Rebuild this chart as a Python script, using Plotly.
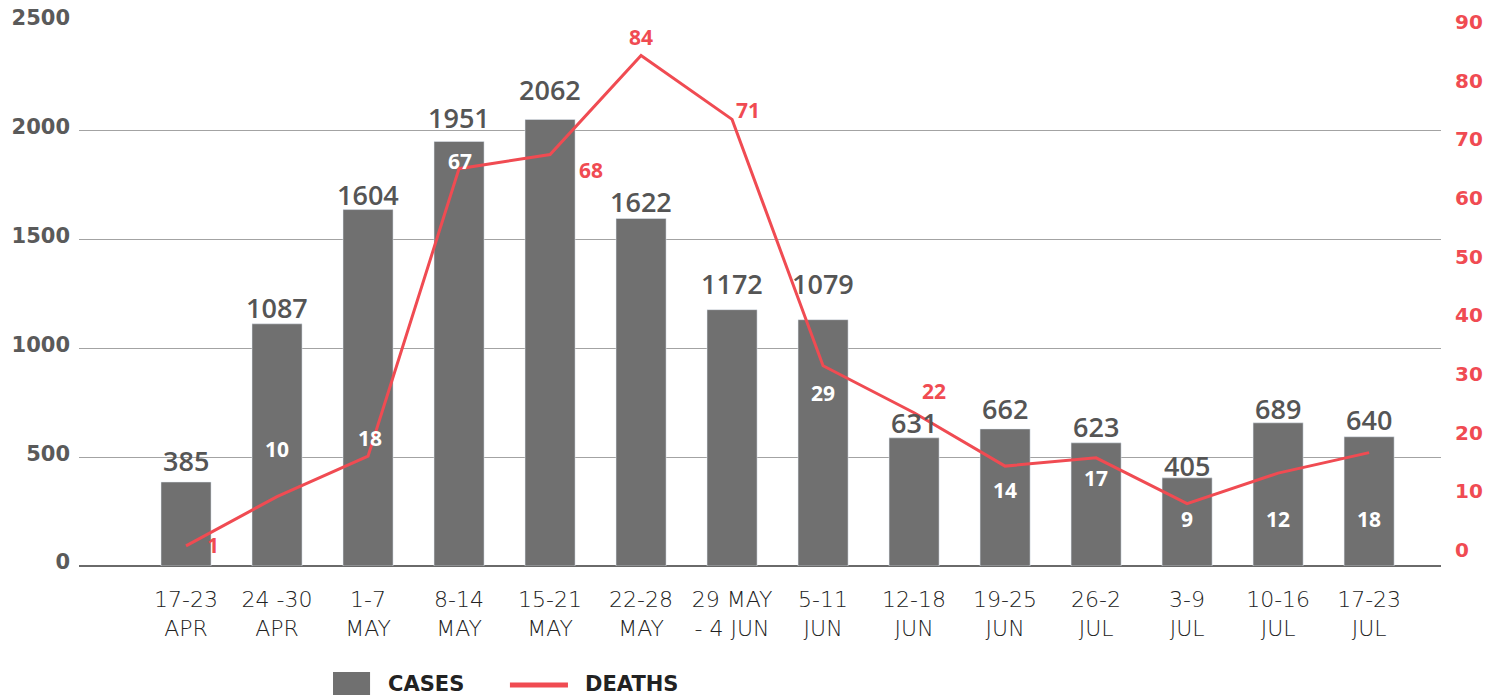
import plotly.graph_objects as go

# ---------------- data ----------------
weeks = ["17-23<br>APR", "24 -30<br>APR", "1-7<br>MAY", "8-14<br>MAY", "15-21<br>MAY",
         "22-28<br>MAY", "29 MAY<br>- 4 JUN", "5-11<br>JUN", "12-18<br>JUN", "19-25<br>JUN",
         "26-2<br>JUL", "3-9<br>JUL", "10-16<br>JUL", "17-23<br>JUL"]
# bar heights as drawn in the picture
cases_drawn = [386, 1113, 1638, 1951, 2052, 1597, 1178, 1132, 589, 630, 566, 405, 658, 594]
# printed case labels
cases_labels = [385, 1087, 1604, 1951, 2062, 1622, 1172, 1079, 631, 662, 623, 405, 689, 640]
# line points as drawn in the picture
deaths_drawn = [0.7, 9.1, 16.0, 65.0, 67.4, 84.3, 73.4, 31.4, 23.4, 14.3, 15.7, 7.9, 13.1, 16.6]
# printed death labels
deaths_labels = [1, 10, 18, 67, 68, 84, 71, 29, 22, 14, 17, 9, 12, 18]

left_ticks = [0, 500, 1000, 1500, 2000, 2500]
right_ticks = [0, 10, 20, 30, 40, 50, 60, 70, 80, 90]

# ---------------- style ----------------
BAR = "#707070"
RED = "#f04b52"
GREY_TXT = "#555555"
DARK = "#222222"
FONT = "Open Sans"
WIDE = "DejaVu Sans"

# label pixel offsets (style)
case_lbl_yshift = [22, 16, 15, 24, 30, 17, 26, 36, 15, 20, 16, 12, 14, 17]
death_lbl_shift = [(27, 1), (0, 48), (2, 18), (1, 8), (41, -15), (0, 18), (16, 9),
                   (0, -27), (20, 22), (0, -24), (0, -20), (0, -15), (0, -46), (0, -66)]
death_lbl_white = [False, True, True, True, False, False, False,
                   True, False, True, True, True, True, True]

x = list(range(len(weeks)))

fig = go.Figure()
fig.add_trace(go.Bar(x=x, y=cases_drawn, marker_color=BAR, width=0.55,
                     name="CASES", yaxis="y"))
fig.add_trace(go.Scatter(x=x, y=deaths_drawn, mode="lines", name="DEATHS",
                         line=dict(color=RED, width=3), yaxis="y2"))

annotations = []
for i, (h, lab, ys) in enumerate(zip(cases_drawn, cases_labels, case_lbl_yshift)):
    annotations.append(dict(x=i, y=h, xref="x", yref="y", text=str(lab), showarrow=False,
                            yanchor="middle", yshift=ys,
                            font=dict(family=FONT, size=27, color=GREY_TXT, weight=600)))
for i, (d, lab, (xs, ys), white) in enumerate(zip(deaths_drawn, deaths_labels,
                                                  death_lbl_shift, death_lbl_white)):
    annotations.append(dict(x=i, y=d, xref="x", yref="y2", text=str(lab), showarrow=False,
                            yanchor="middle", xshift=xs, yshift=ys,
                            font=dict(family=FONT, size=21, weight=700,
                                      color="#ffffff" if white else RED)))

# custom legend
annotations.append(dict(x=0.2254, y=-0.2169, xref="paper", yref="paper", text="CASES",
                        showarrow=False, xanchor="left", yanchor="middle",
                        font=dict(family=WIDE, size=21, color=DARK, weight=700)))
annotations.append(dict(x=0.3700, y=-0.2169, xref="paper", yref="paper", text="DEATHS",
                        showarrow=False, xanchor="left", yanchor="middle",
                        font=dict(family=WIDE, size=21, color=DARK, weight=700)))
shapes = [
    dict(type="rect", xref="paper", yref="paper", x0=0.1865, x1=0.2137, y0=-0.2371, y1=-0.1949,
         fillcolor=BAR, line=dict(width=0)),
    dict(type="line", xref="paper", yref="paper", x0=0.3164, x1=0.3590, y0=-0.2188, y1=-0.2188,
         line=dict(color=RED, width=5)),
]

fig.update_layout(
    width=1499, height=695,
    margin=dict(l=79, r=58, t=22, b=129, autoexpand=False),
    plot_bgcolor="white", paper_bgcolor="white",
    showlegend=False,
    xaxis=dict(tickmode="array", tickvals=x, ticktext=weeks, range=[-1.176, 13.79],
               showgrid=False, zeroline=False, showline=False, ticks="", automargin=False,
               ticklabelstandoff=18,
               tickfont=dict(family=WIDE, size=22, color=DARK, weight=300)),
    yaxis=dict(range=[0, 2500], tickvals=left_ticks, showgrid=True, gridcolor="#a3a3a3",
               gridwidth=1, zeroline=True, zerolinecolor="#6a6a6a", zerolinewidth=2,
               showline=False, ticks="", ticklabelstandoff=8, automargin=False,
               ticklabelshift=-4,
               tickfont=dict(family=WIDE, size=21, color="#5a5a5a", weight=600)),
    yaxis2=dict(range=[-2.73, 90], tickvals=right_ticks, overlaying="y", side="right",
                showgrid=False, zeroline=False, showline=False, ticks="", ticklabelstandoff=13,
                automargin=False,
                tickfont=dict(family=WIDE, size=20, color=RED, weight=600)),
    annotations=annotations,
    shapes=shapes,
)

fig.write_html("out.html", config={"displayModeBar": False},
               post_script="document.body.style.margin='0';document.body.style.overflow='hidden';")
